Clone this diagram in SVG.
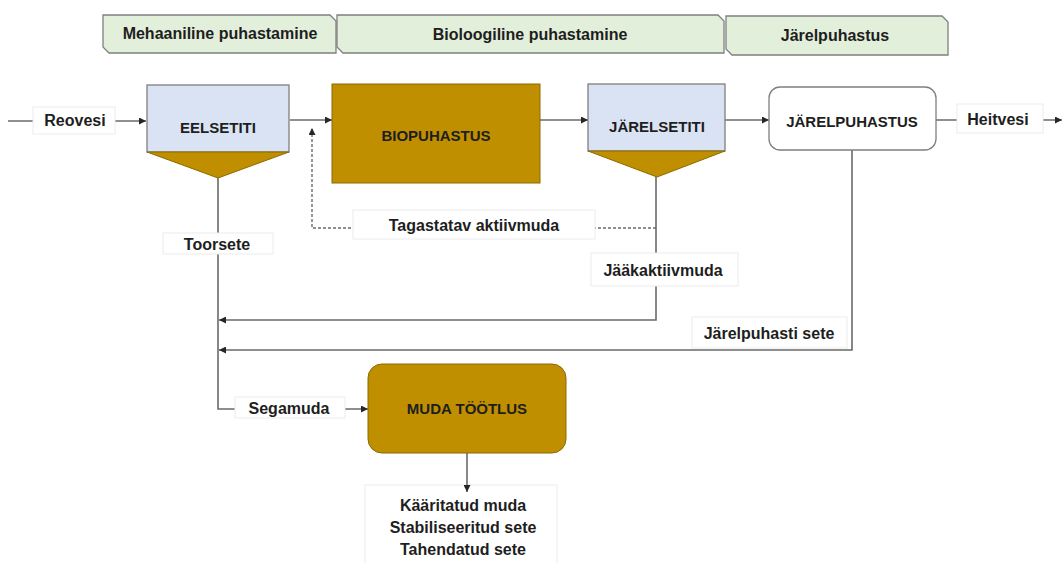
<svg xmlns="http://www.w3.org/2000/svg" width="1064" height="563" viewBox="0 0 1064 563">
<style>
.t{font-family:"Liberation Sans",Arial,sans-serif;font-weight:bold;font-size:16px;fill:#1e1e1e;text-anchor:middle;dominant-baseline:central}
.cap{font-size:15px}
.tab{fill:#e2efda;stroke:#7f7f7f;stroke-width:1.3}
.blue{fill:#dae3f3;stroke:#7f7f7f;stroke-width:1.3}
.brown{fill:#bf8f00;stroke:#8c6a00;stroke-width:1}
.lbl{fill:#ffffff;stroke:#ececec;stroke-width:1}
.c{fill:none;stroke:#6a6a6a;stroke-width:1.6}
.d{fill:none;stroke:#6a6a6a;stroke-width:1.4;stroke-dasharray:3 2}
</style>
<defs>
<marker id="ah" viewBox="0 0 10 10" refX="10" refY="5" markerWidth="7" markerHeight="7" markerUnits="userSpaceOnUse" orient="auto">
<path d="M0,0 L10,5 L0,10 z" fill="#262626"/>
</marker>
</defs>
<rect width="1064" height="563" fill="#ffffff"/>

<g id="tab-mehaaniline">
<path class="tab" d="M103,15 H330 L336,21 V53 H109 L103,47 Z"/>
<text class="t" x="220" y="33">Mehaaniline puhastamine</text>
</g>
<g id="tab-bioloogiline">
<path class="tab" d="M337,15 H718 L724,21 V53 H343 L337,47 Z"/>
<text class="t" x="530" y="34">Bioloogiline puhastamine</text>
</g>
<g id="tab-jarelpuhastus">
<path class="tab" d="M726,16 H942 L948,22 V55 H732 L726,49 Z"/>
<text class="t" x="835" y="35">Järelpuhastus</text>
</g>

<g id="connectors">
<path class="c" d="M8,121 H146" marker-end="url(#ah)"/>
<path class="c" d="M290,120 H332" marker-end="url(#ah)"/>
<path class="c" d="M540,120 H588" marker-end="url(#ah)"/>
<path class="c" d="M725,120 H769" marker-end="url(#ah)"/>
<path class="c" d="M936,120 H1062" marker-end="url(#ah)"/>
<path class="c" d="M656,177 V320 H219" marker-end="url(#ah)"/>
<path class="c" d="M852,150 V350 H219" marker-end="url(#ah)"/>
<path class="c" d="M218,178 V409 H368" marker-end="url(#ah)"/>
<path class="d" d="M656,228 H312 V128" marker-end="url(#ah)"/>
<g id="label-reovesi"><rect class="lbl" x="33" y="107" width="82" height="27"/><text class="t" x="75" y="120">Reovesi</text></g>
<g id="label-heitvesi"><rect class="lbl" x="957" y="104" width="86" height="29"/><text class="t" x="998" y="119">Heitvesi</text></g>
<g id="label-toorsete"><rect class="lbl" x="163" y="233" width="110" height="21"/><text class="t" x="217" y="244">Toorsete</text></g>
<g id="label-tagastatav"><rect class="lbl" x="353" y="210" width="242" height="29"/><text class="t" x="474" y="225">Tagastatav aktiivmuda</text></g>
<g id="label-jaakaktiivmuda"><rect class="lbl" x="591" y="253" width="147" height="33"/><text class="t" x="663" y="270">Jääkaktiivmuda</text></g>
<g id="label-jarelpuhasti"><rect class="lbl" x="692" y="317" width="155" height="31"/><text class="t" x="769" y="333">Järelpuhasti sete</text></g>
<g id="label-segamuda"><rect class="lbl" x="235" y="397" width="110" height="21"/><text class="t" x="289" y="408">Segamuda</text></g>
</g>

<g id="node-eelsetiti">
<rect class="blue" x="147" y="85" width="142" height="67"/>
<path class="brown" d="M147,152 H289 L218,178 Z"/>
<text class="t cap" x="218" y="127">EELSETITI</text>
</g>
<g id="node-biopuhastus">
<rect class="brown" x="332" y="84" width="208" height="99"/>
<text class="t cap" x="436" y="135">BIOPUHASTUS</text>
</g>
<g id="node-jarelsetiti">
<rect class="blue" x="588" y="84" width="137" height="67"/>
<path class="brown" d="M588,151 H725 L657,177 Z"/>
<text class="t cap" x="657" y="126">JÄRELSETITI</text>
</g>
<g id="node-jarelpuhastus">
<rect x="769" y="87" width="167" height="63" rx="11" fill="#ffffff" stroke="#7f7f7f" stroke-width="1.3"/>
<text class="t cap" x="852" y="121">JÄRELPUHASTUS</text>
</g>
<g id="node-muda">
<rect class="brown" x="368" y="364" width="198" height="89" rx="14"/>
<text class="t cap" x="467" y="408">MUDA TÖÖTLUS</text>
</g>
<g id="node-output">
<rect class="lbl" x="365" y="485" width="192" height="80"/>
<text class="t" x="463" y="505">Kääritatud muda</text>
<text class="t" x="463" y="527">Stabiliseeritud sete</text>
<text class="t" x="463" y="549">Tahendatud sete</text>
</g>
<g id="connector-output">
<path class="c" d="M467,453 V492" marker-end="url(#ah)"/>
</g>
</svg>
